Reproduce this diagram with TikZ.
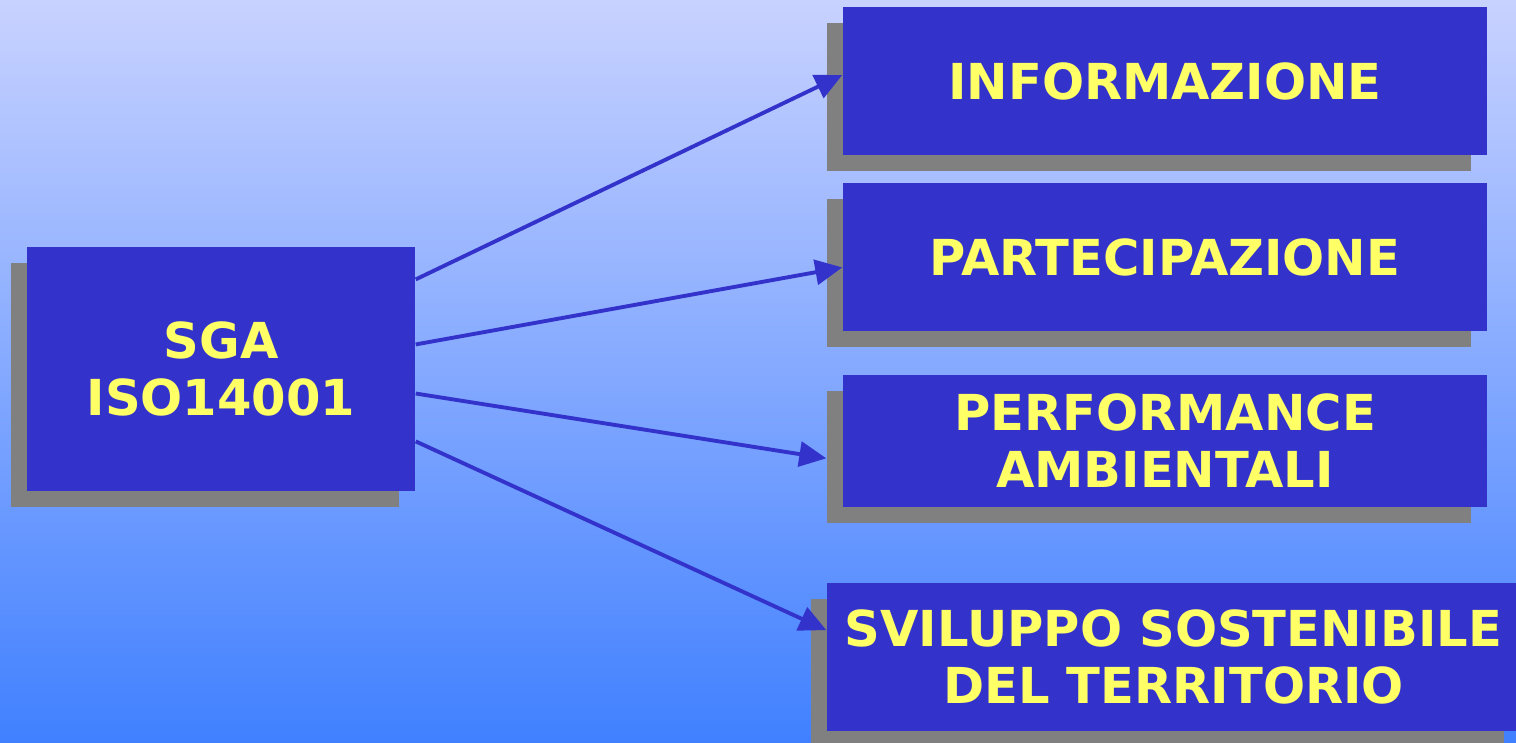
\documentclass[tikz,border=0pt]{standalone}
\usepackage{fontspec}
\setmainfont{DejaVu Sans}
\usetikzlibrary{shadows,calc,arrows.meta}
\definecolor{boxblue}{RGB}{51,51,204}
\definecolor{textyellow}{RGB}{255,255,102}
\definecolor{shadowgray}{RGB}{128,128,128}
\definecolor{bgtop}{RGB}{200,210,255}
\definecolor{bgbottom}{RGB}{64,128,255}
\begin{document}
\begin{tikzpicture}
        [boxdecorate/.style={shape=rectangle,fill=boxblue,inner sep=0pt,align=center,
          text=textyellow,font=\fontsize{14.1}{16.2}\selectfont\bfseries,
          drop shadow={shadow xshift=-0.16cm,shadow yshift=-0.16cm,fill=shadowgray,opacity=1}},%
        arrowdecorate/.style={-{Triangle[length=0.27cm,width=0.25cm]},draw=boxblue,line width=1.1pt}]
        \useasboundingbox (0,0) rectangle (15.16,7.43);
        %% background
        \shade[top color=bgtop,bottom color=bgbottom] (0,0) rectangle (15.16,7.43);
        %% nodes or boxes
        \node (sga) at (2.21,3.74) [boxdecorate,minimum width=3.88cm,minimum height=2.44cm] {SGA\\ISO14001};
        \foreach \nodename/\x/\y/\w/\h/\text in {info/11.65/6.62/6.44/1.48/INFORMAZIONE,
          part/11.65/4.86/6.44/1.48/PARTECIPAZIONE, perf/11.65/3.02/6.44/1.32/{PERFORMANCE\\AMBIENTALI},
          svil/11.735/0.86/6.93/1.48/{SVILUPPO SOSTENIBILE\\DEL TERRITORIO}}
        {
          \node (\nodename) at (\x,\y) [boxdecorate,minimum width=\w cm,minimum height=\h cm] {\text};
        }
        %% arrows
        \foreach \endnode/\from/\to/\shift in {info/0.135/0.46/0,
          part/0.40/0.57/0, perf/0.60/0.63/-0.16, svil/0.795/0.32/0}
        {
          \draw[arrowdecorate] ($(sga.north east)!\from!(sga.south east)$)
            -- ($(\endnode.north west)!\to!(\endnode.south west)+(\shift,0)$);
        }
      \end{tikzpicture}
\end{document}
